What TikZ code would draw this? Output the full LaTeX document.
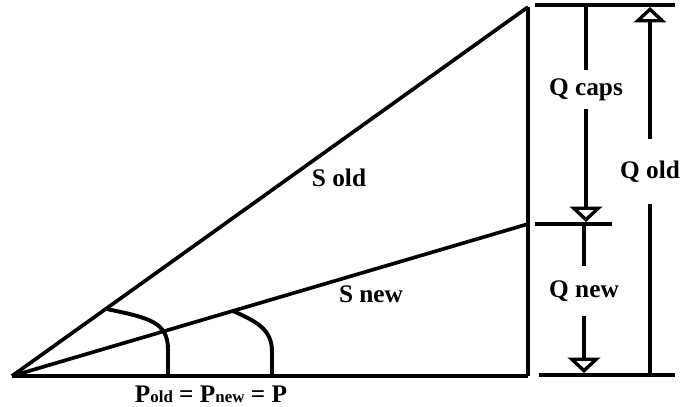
\documentclass[tikz,border=0pt]{standalone}
\usepackage{fontspec}
\setmainfont{Liberation Serif}
\usetikzlibrary{arrows.meta, calc}

\begin{document}
\begin{tikzpicture}[x=0.025cm, y=-0.025cm,
    % Define the styles for the lines and labels
    mainline/.style={line width=3.4pt},
    hypline/.style={line width=2.6pt},
    tickline/.style={line width=2.3pt},
    arcline/.style={line width=2.8pt},
    openarrow/.style={-{Triangle[open, length=11pt, width=23pt]}, line width=2.4pt},
    lbl/.style={font=\fontsize{18}{20}\selectfont\bfseries, inner sep=0pt, outer sep=0pt},
    gapnode/.style={lbl, minimum height=#1*0.025cm}
]
\useasboundingbox (0,0) rectangle (680,407);

% Define the points of the triangles
\coordinate (O) at (12,376);
\coordinate (A) at (528,7);
\coordinate (B) at (528,224);
\coordinate (C) at (528,376);

% Draw the triangles
\draw[mainline] (O) -- (C);
\draw[mainline] (C) -- (A);
\draw[hypline] (O) -- (A);
\draw[hypline] (O) -- (B);
\node[lbl] (sold) at (339,178) {S old};
\node[lbl] (snew) at (371,294) {S new};

% Mark the angles
\coordinate (a1) at ($(O)!0.182!(A)$);
\coordinate (a2) at ($(O)!0.428!(B)$);
\draw[arcline] (a1) .. controls (150,318) and (168,322) .. (168,350) -- (168,376);
\draw[arcline] (a2) .. controls (258,322) and (272,330) .. (272,352) -- (272,376);

% Base label
\node[lbl] (P) at (211,394) {P{\fontsize{12}{13}\selectfont old} = P{\fontsize{12}{13}\selectfont new} = P};

% Reference lines on the right
\draw[tickline] (535,5) -- (675,5);
\draw[tickline] (535,224) -- (612,224);
\draw[tickline] (539,375) -- (675,375);

% Q caps
\coordinate (qcapstop) at (586,5);
\coordinate (qcapsend) at (586,222);
\node[gapnode=39] (qcaps) at (586,90) {Q caps};
\draw[tickline] (qcapstop) -- (qcaps);
\draw[openarrow] (qcaps) -- (qcapsend);

% Q new
\coordinate (qnewtop) at (584,224);
\coordinate (qnewend) at (584,373);
\node[gapnode=50] (qnew) at (584,291) {Q new};
\draw[tickline] (qnewtop) -- (qnew);
\draw[openarrow] (qnew) -- (qnewend);

% Q old
\coordinate (qoldbot) at (650,375);
\coordinate (qoldend) at (650,7);
\node[gapnode=65] (qold) at (650,172) {Q old};
\draw[tickline] (qoldbot) -- (qold);
\draw[openarrow] (qold) -- (qoldend);

\end{tikzpicture}
\end{document}
